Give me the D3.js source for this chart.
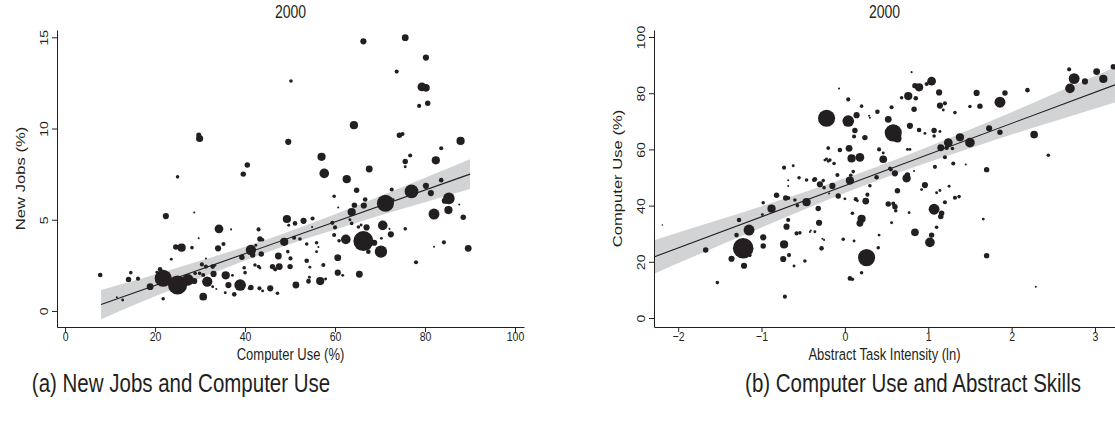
<!DOCTYPE html>
<html>
<head>
<meta charset="utf-8">
<script src="https://cdn.jsdelivr.net/npm/d3@7"></script>
<style>
  body { margin: 0; background: #fff; }
  svg text { font-family: "Liberation Sans", Arial, sans-serif; fill: #231f20; }
</style>
</head>
<body>
<svg id="chart" width="1115" height="426"></svg>
<script>
// panel (a): [computer use %, new jobs %, employment weight]
const jobsPoints = [
  [7.8,1.97,5],[11.5,0.75,1],[12.8,0.6,2],[14.1,1.73,7],[14.6,2.1,3],[16.2,1.77,4],
  [18.9,1.33,11],[22.4,5.2,9],[25.0,7.35,3],[28.7,5.4,1],[29.7,3.98,1],[29.7,9.65,6],
  [29.9,9.45,12],[23.6,2.83,2],[21.8,1.79,69],[25.0,1.42,86],[27.3,1.7,32],[21.1,2.28,5],
  [20.4,2.12,2],[21.8,0.67,3],[39.6,7.5,7],[40.5,8.0,7],[34.2,4.5,18],[36.9,4.47,1],
  [25.9,3.47,16],[24.6,3.5,7],[28.2,3.47,3],[34.0,3.43,9],[35.2,3.67,4],[31.3,2.88,1],
  [30.4,2.55,4],[31.3,2.43,4],[32.8,2.43,5],[33.3,2.5,2],[28.7,1.64,9],[28.9,2.06,3],
  [29.9,2.06,3],[30.7,1.97,4],[33.0,2.03,9],[35.7,1.95,16],[37.2,1.95,2],[31.6,1.61,25],
  [32.8,1.33,2],[33.6,1.2,1],[36.3,1.42,9],[38.9,1.42,32],[37.6,0.91,5],[35.6,1.0,2],
  [30.7,0.78,14],[41.0,1.24,3],[41.3,1.28,7],[43.2,1.24,4],[43.9,1.1,2],[45.6,1.24,9],
  [47.2,0.97,3],[39.3,2.94,7],[39.8,2.37,3],[40.0,2.1,3],[41.3,3.34,25],[41.7,3.07,7],
  [43.0,4.47,4],[43.3,3.94,7],[43.9,3.9,3],[42.4,3.6,2],[42.2,2.52,3],[43.0,2.44,3],
  [43.6,3.12,7],[43.3,2.35,2],[46.1,2.43,7],[46.7,2.28,4],[47.6,2.43,11],[47.4,3.01,11],
  [49.5,3.25,3],[50.1,2.88,4],[50.0,2.43,7],[49.3,5.04,16],[49.7,4.7,2],[51.1,4.8,5],
  [53.0,4.94,9],[50.9,4.01,4],[52.2,3.94,3],[48.7,3.79,16],[53.7,3.67,3],[53.7,2.75,5],
  [51.3,1.42,11],[54.1,1.6,4],[57.6,7.54,22],[62.6,7.22,16],[67.6,7.78,11],[64.8,6.62,7],
  [59.8,6.29,3],[60.7,5.67,1],[64.3,5.8,7],[66.7,6.11,5],[66.4,5.78,9],[71.2,5.9,69],
  [72.9,6.1,2],[72.6,6.66,4],[77.0,6.55,45],[80.2,6.86,9],[81.3,6.46,9],[83.6,7.17,5],
  [85.3,6.17,32],[84.4,6.04,9],[85.2,5.53,16],[82.0,5.31,28],[87.6,5.84,1],[88.5,5.14,7],
  [89.6,3.43,11],[84.2,3.76,4],[82.0,3.52,1],[78.0,2.67,4],[75.6,4.5,3],[72.4,4.2,9],
  [72.1,4.5,1],[70.6,4.69,22],[70.3,3.98,2],[70.2,3.25,36],[66.3,3.83,94],[68.7,3.74,9],
  [67.4,3.25,5],[67.0,4.58,9],[65.8,4.71,2],[65.2,4.6,3],[62.4,3.92,22],[60.6,2.92,11],
  [60.6,2.1,9],[61.7,1.95,2],[65.4,2.01,11],[63.7,4.8,3],[63.3,5.0,2],[59.4,4.83,4],
  [60.0,4.58,4],[59.8,4.16,4],[60.9,3.85,3],[63.7,5.42,16],[57.4,2.52,4],[56.7,1.64,16],
  [54.1,1.64,5],[57.9,1.75,2],[55.9,3.74,3],[55.9,3.25,2],[56.3,3.5,1],[54.4,2.4,2],
  [54.3,1.85,2],[55.0,5.07,4],[54.9,4.6,1],[66.3,14.78,9],[75.6,14.98,11],[80.2,13.89,9],
  [73.7,13.12,4],[50.2,12.6,3],[79.3,12.28,18],[80.2,12.23,14],[78.7,11.24,4],[80.6,11.38,7],
  [64.2,10.18,16],[74.3,9.63,7],[75.0,9.7,4],[87.9,9.32,16],[49.6,9.27,9],[57.0,8.45,16],
  [76.7,8.52,4],[75.6,8.19,7],[75.6,7.9,2],[82.4,8.26,16],[83.6,8.92,4]
];

// panel (b): [abstract task intensity (ln), computer use %, employment weight]
const abstractPoints = [
  [-2.19,33.1,0.5],[-1.67,24.2,7],[-1.53,12.6,3],[-1.27,34.9,5],[-1.22,24.8,100],[-1.36,21.1,9],
  [-1.21,18.6,9],[-1.15,31.3,28],[-1.30,29.5,5],[-1.14,22.3,3],[-0.98,41.0,3],[-0.99,36.8,2],
  [-0.88,38.9,16],[-0.98,28.7,9],[-0.98,25.6,7],[-0.82,43.7,7],[-0.73,53.5,4],[-0.71,42.7,7],
  [-0.68,42.7,4],[-0.73,26.2,16],[-0.74,21.0,9],[-0.67,22.4,4],[-0.70,32.5,9],[-0.68,34.9,4],
  [-0.72,7.6,4],[-0.62,54.2,2],[-0.61,18.5,2],[-0.68,47.0,1],[-0.68,49.0,1],[-0.60,42.0,3],
  [-0.58,30.1,4],[-0.54,30.3,3],[-0.48,20.3,3],[-0.55,49.9,3],[-0.46,49.1,3],[-0.46,41.2,16],
  [-0.42,30.6,1],[-0.36,30.7,2],[-0.37,49.1,4],[-0.32,39.0,7],[-0.31,33.9,9],[-0.28,24.8,5],
  [-0.30,47.6,9],[-0.26,48.9,3],[-0.25,46.4,3],[-0.25,27.8,1],[-0.22,71.1,69],[-0.20,60.6,2],
  [-0.24,56.2,2],[-0.20,55.8,2],[-0.19,44.3,1],[-0.07,81.7,1],[0.04,77.8,4],[0.20,75.4,3],
  [0.04,70.1,32],[0.14,72.2,9],[0.39,73.4,5],[0.30,71.3,1],[0.12,66.7,7],[0.11,64.6,4],
  [0.24,64.2,7],[-0.20,60.4,3],[-0.06,59.8,5],[0.05,60.4,11],[-0.22,56.6,2],[-0.18,56.2,3],
  [-0.13,55.0,3],[0.08,56.8,16],[0.18,57.2,18],[0.10,52.1,3],[0.41,60.0,4],[0.46,56.5,14],
  [0.46,58.7,2],[-0.09,50.9,4],[0.06,48.9,16],[0.07,50.8,3],[0.38,50.1,5],[0.30,47.1,3],
  [0.54,53.3,3],[-0.36,49.4,5],[-0.15,47.0,9],[-0.08,43.4,7],[0.0,42.4,2],[0.13,42.3,4],
  [0.25,41.6,11],[0.27,43.9,4],[0.52,40.6,7],[-0.57,40.0,3],[-0.68,35.1,2],[-0.41,31.1,1],
  [-0.27,28.2,1],[-0.02,28.0,3],[0.11,27.4,2],[0.20,35.3,16],[0.18,33.7,11],[0.41,29.5,2],
  [0.40,25.0,3],[0.26,21.5,69],[0.20,16.1,3],[0.06,14.1,5],[0.09,13.8,3],[0.80,87.5,1],
  [0.29,72.0,1],[0.56,75.0,4],[0.68,78.4,3],[0.76,79.0,16],[0.85,78.2,5],[0.84,82.7,7],
  [0.89,82.1,16],[0.98,83.3,4],[1.04,84.3,18],[1.13,80.3,9],[0.83,74.3,7],[1.14,75.6,9],
  [1.20,76.4,4],[1.18,74.0,2],[1.32,73.1,3],[1.58,80.1,9],[1.50,75.3,3],[1.62,75.4,7],
  [1.86,76.8,28],[1.92,80.1,7],[2.19,81.1,5],[0.52,70.7,11],[0.58,65.9,69],[0.63,63.9,16],
  [0.78,68.4,9],[0.89,66.9,5],[0.96,65.7,2],[1.07,66.7,7],[1.07,64.8,3],[1.14,66.4,2],
  [0.78,60.0,2],[0.75,60.0,2],[1.15,60.6,11],[1.24,62.4,18],[1.22,60.6,5],[1.29,60.3,3],
  [1.38,64.3,16],[1.50,62.4,22],[1.20,57.2,4],[1.30,55.0,4],[1.45,54.6,1],[1.73,67.5,9],
  [1.86,66.1,7],[2.27,65.3,14],[2.44,57.9,3],[1.70,52.8,7],[2.69,88.5,4],[2.75,85.2,28],
  [2.70,81.7,22],[2.88,84.2,9],[3.02,87.7,11],[3.10,85.1,16],[3.22,89.4,7],[1.08,53.8,4],
  [0.83,52.3,1],[0.74,49.7,16],[0.75,50.9,7],[0.60,51.5,9],[0.55,52.9,4],[0.63,45.3,7],
  [0.96,47.3,9],[0.92,45.7,2],[1.10,44.6,2],[1.14,45.4,2],[1.25,46.9,2],[1.32,42.8,4],
  [1.37,43.2,3],[1.07,38.7,28],[1.16,37.3,7],[1.15,36.1,7],[1.20,41.2,4],[1.10,32.3,3],
  [0.84,30.5,14],[1.02,26.9,22],[1.04,29.5,7],[0.77,37.5,2],[0.56,33.9,2],[0.60,39.6,7],
  [0.58,40.7,4],[0.61,38.2,3],[1.66,35.2,2],[1.70,22.2,7],[2.29,11.1,1],[0.15,41.7,2],
  [0.09,37.3,3]
];

// fitted lines and 95% confidence bands
const jobsFitX = [8, 90];
const jobsFitY = [0.35, 7.5];
const jobsBandX  = [8, 20, 30, 40, 48, 60, 70, 80, 90];
const jobsBandLo = [-0.45, 0.8, 1.79, 2.76, 3.49, 4.46, 5.23, 5.96, 6.68];
const jobsBandHi = [1.15, 2.0, 2.75, 3.52, 4.19, 5.30, 6.29, 7.30, 8.32];

const absFitX = [-2.29, 3.24];
const absFitY = [21.73, 83.0];
const absBandX  = [-2.29, -1.5, -1, -0.5, 0, 0.4, 1, 1.5, 2, 2.5, 3.24];
const absBandLo = [15.75, 25.9, 32.25, 38.47, 44.48, 49.03, 55.4, 60.38, 65.27, 69.92, 76.74];
const absBandHi = [27.71, 35.06, 39.79, 44.65, 49.72, 54.03, 60.96, 67.06, 73.25, 79.68, 89.26];

const jobsXTicks = [0, 20, 40, 60, 80, 100];
const jobsYTicks = [0, 5, 10, 15];
const absXTicks  = [-2, -1, 0, 1, 2, 3];
const absYTicks  = [0, 20, 40, 60, 80, 100];

const panelTitles = ['2000', '2000'];
const xTitles = ['Computer Use (%)', 'Abstract Task Intensity (ln)'];
const yTitles = ['New Jobs (%)', 'Computer Use (%)'];
const captions = ['(a) New Jobs and Computer Use', '(b) Computer Use and Abstract Skills'];

const ink = '#231f20';
const bandFill = '#d1d3d4';
const stretch = 1.28;   // the figure's text is drawn a bit taller than wide
const svg = d3.select('#chart');
const radius = d3.scaleSqrt().domain([0, 100]).range([0, 10.3]);

function drawPanel(cfg) {
  const g = svg.append('g');
  const x = d3.scaleLinear().domain(cfg.xDomain).range(cfg.xRange);
  const y = d3.scaleLinear().domain(cfg.yDomain).range(cfg.yRange);
  const left = cfg.xRange[0];
  const bottom = cfg.yRange[0];

  const band = cfg.bandX.map((v, i) => ({x: v, lo: cfg.bandLo[i], hi: cfg.bandHi[i]}));
  g.append('path')
    .datum(band)
    .attr('fill', bandFill)
    .attr('d', d3.area()
      .curve(d3.curveMonotoneX)
      .x(d => x(d.x))
      .y0(d => y(d.lo))
      .y1(d => y(d.hi)));

  g.append('line')
    .attr('x1', x(cfg.fitX[0])).attr('y1', y(cfg.fitY[0]))
    .attr('x2', x(cfg.fitX[1])).attr('y2', y(cfg.fitY[1]))
    .attr('stroke', ink)
    .attr('stroke-width', 1.1);

  g.append('g')
    .selectAll('circle')
    .data(cfg.points)
    .join('circle')
    .attr('cx', d => x(d[0]))
    .attr('cy', d => y(d[1]))
    .attr('r', d => Math.max(0.8, radius(d[2])))
    .attr('fill', ink);

  // axes
  const xAxis = g.append('g')
    .attr('transform', `translate(0,${bottom})`)
    .call(d3.axisBottom(x).tickValues(cfg.xTicks).tickSize(5).tickSizeOuter(0)
      .tickFormat(d => String(d).replace('-', '\u2212')));
  const yAxis = g.append('g')
    .attr('transform', `translate(${left},0)`)
    .call(d3.axisLeft(y).tickValues(cfg.yTicks).tickSize(5).tickSizeOuter(0));

  [xAxis, yAxis].forEach(a => {
    a.select('.domain').attr('stroke', ink).attr('stroke-width', 1);
    a.selectAll('.tick line').attr('stroke', ink).attr('stroke-width', 1);
    a.selectAll('text').attr('font-size', 10.5).attr('fill', ink)
      .attr('font-family', '"Liberation Sans", Arial, sans-serif');
  });

  xAxis.selectAll('.tick text')
    .attr('y', 0)
    .attr('dy', 0)
    .attr('transform', `translate(0,14) scale(1,${stretch})`);

  yAxis.selectAll('.tick text')
    .attr('x', 0)
    .attr('y', 0)
    .attr('dy', 0)
    .attr('font-size', 11)
    .attr('text-anchor', 'middle')
    .attr('transform', `translate(-9,0) rotate(-90) scale(${stretch},1)`);

  const midX = (cfg.xRange[0] + cfg.xRange[1]) / 2;
  const midY = (cfg.yRange[0] + cfg.yRange[1]) / 2;

  g.append('text')
    .attr('transform', `translate(${midX},18) scale(1,${stretch})`)
    .attr('text-anchor', 'middle')
    .attr('font-size', 14)
    .text(cfg.title);

  g.append('text')
    .attr('transform', `translate(${midX},${bottom + 32.5}) scale(1,${stretch})`)
    .attr('text-anchor', 'middle')
    .attr('font-size', 13)
    .text(cfg.xTitle);

  g.append('text')
    .attr('transform', `translate(${left - 32},${midY}) rotate(-90) scale(${stretch},1)`)
    .attr('text-anchor', 'middle')
    .attr('font-size', 13)
    .text(cfg.yTitle);

  g.append('text')
    .attr('transform', `translate(${cfg.captionX},392) scale(1,${stretch})`)
    .attr('text-anchor', 'middle')
    .attr('font-size', 20.5)
    .text(cfg.caption);
}

drawPanel({
  points: jobsPoints,
  xDomain: [-1.8, 102], xRange: [57, 524],
  yDomain: [-0.88, 15.4], yRange: [327, 30],
  xTicks: jobsXTicks, yTicks: jobsYTicks,
  fitX: jobsFitX, fitY: jobsFitY,
  bandX: jobsBandX, bandLo: jobsBandLo, bandHi: jobsBandHi,
  title: panelTitles[0], xTitle: xTitles[0], yTitle: yTitles[0],
  caption: captions[0], captionX: 181
});

drawPanel({
  points: abstractPoints,
  xDomain: [-2.29, 3.24], xRange: [654, 1115],
  yDomain: [-3.2, 102.5], yRange: [327, 30],
  xTicks: absXTicks, yTicks: absYTicks,
  fitX: absFitX, fitY: absFitY,
  bandX: absBandX, bandLo: absBandLo, bandHi: absBandHi,
  title: panelTitles[1], xTitle: xTitles[1], yTitle: yTitles[1],
  caption: captions[1], captionX: 913
});
</script>
</body>
</html>
